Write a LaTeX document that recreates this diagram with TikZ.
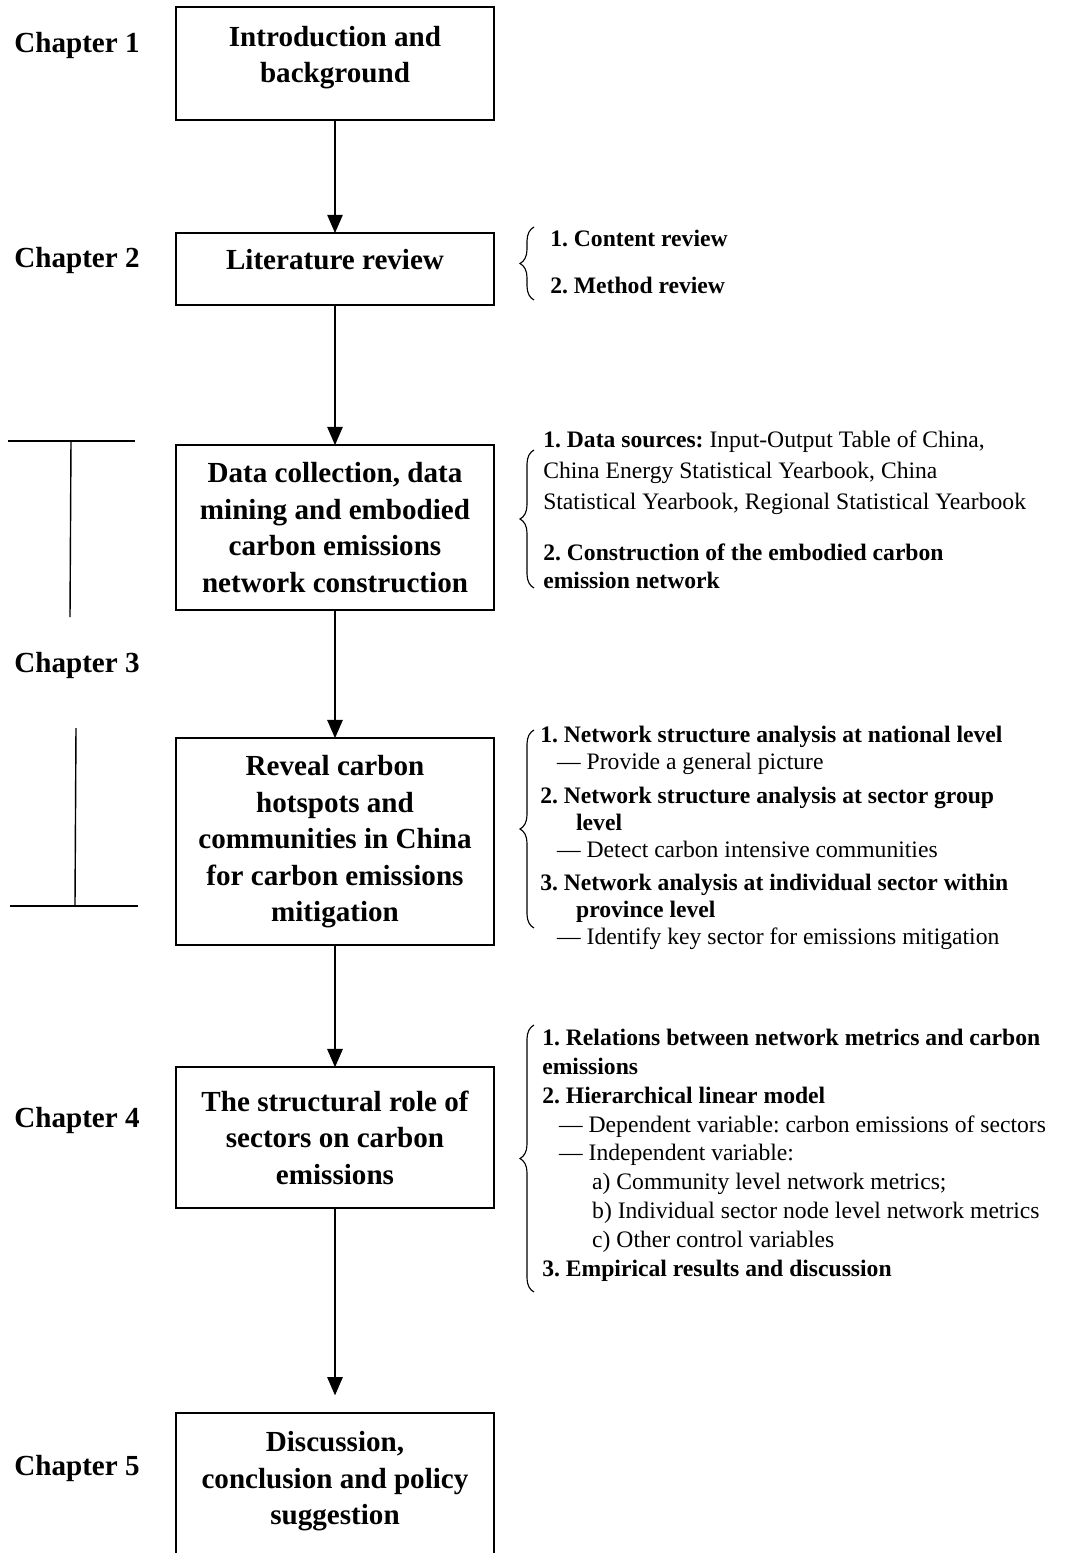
\documentclass[tikz,border=0pt]{standalone}
\usepackage{fontspec}
\setmainfont{Liberation Serif}
\frenchspacing
\usetikzlibrary{arrows.meta,positioning,decorations.pathreplacing}
\tikzset{
  chapbox/.style={
    draw,
    line width=1.3pt,
    align=center,
    minimum width=7.95cm,
    inner sep=2pt,
    outer sep=0pt,
    font=\fontsize{20.7}{26}\selectfont\bfseries
  },
  chaplabel/.style={font=\fontsize{20.7}{26}\selectfont\bfseries, inner sep=0pt},
  notes/.style={align=left, anchor=north west, inner sep=0pt, font=\fontsize{16.8}{19.8}\selectfont},
  arrow/.style={-{Triangle[width=11pt,length=13pt]}, line width=1pt},
  brace/.style={decorate, decoration={brace, amplitude=0.35cm}, line width=0.8pt},
  rule/.style={line width=1.4pt}
}
\begin{document}
\begin{tikzpicture}[x=0.025cm, y=-0.025cm]
    \useasboundingbox (0,0) rectangle (1068,1553);
    % chapter boxes
    \node[chapbox, minimum height=2.825cm] (intro) at (335,63.5) {Introduction and\\background\rule[-13pt]{0pt}{0pt}};
    \node[chapbox, minimum height=1.8cm, below=2.825cm of intro] (litrev) {Literature review\rule[-14pt]{0pt}{0pt}};
    \node[chapbox, minimum height=4.125cm, below=3.5cm of litrev] (datacol) {Data collection, data\\mining and embodied\\carbon emissions\\network construction};
    \node[chapbox, minimum height=5.175cm, below=3.2cm of datacol] (hotspot) {Reveal carbon\\hotspots and\\communities in China\\for carbon emissions\\mitigation};
    \node[chapbox, minimum height=3.525cm, below=3.05cm of hotspot] (role) {The structural role of\\sectors on carbon\\emissions};
    \node[chapbox, draw=none, minimum height=3.4cm, below=5.125cm of role] (concl) {Discussion,\\conclusion and policy\\suggestion};
    \draw[line width=1.3pt] ([yshift=-0.5cm]concl.south west) -- (concl.north west) -- (concl.north east) -- ([yshift=-0.5cm]concl.south east);
    \draw[arrow] (intro) -- (litrev);
    \draw[arrow] (litrev) -- (datacol);
    \draw[arrow] (datacol) -- (hotspot);
    \draw[arrow] (hotspot) -- (role);
    \draw[arrow, shorten >=0.45cm] (role) -- (concl);
    % chapter labels
    \node[chaplabel] (ch1) at (77,45) {Chapter 1};
    \node[chaplabel] (ch2) at (77,260) {Chapter 2};
    \node[chaplabel] (ch3) at (77,665) {Chapter 3};
    \node[chaplabel] (ch4) at (77,1120) {Chapter 4};
    \node[chaplabel] (ch5) at (77,1468) {Chapter 5};
    % side rules of chapter 3
    \draw[rule] (8,441) -- (135,441);
    \draw[line width=1pt] (71,441) -- (70,617);
    \draw[line width=1pt] (76,728) -- (75,905);
    \draw[rule] (10,906) -- (138,906);
    % notes
    \node[notes] (litnotes) at (550,230) {\textbf{1. Content review}\\[13.6pt]\textbf{2. Method review}};
    \node[notes] (datanotes) at (543,431) {\textbf{1. Data sources:} Input-Output Table of China,\\[2pt]China Energy Statistical Yearbook, China\\[2pt]Statistical Yearbook, Regional Statistical Yearbook\\[17pt]\textbf{2. Construction of the embodied carbon}\\
      \textbf{emission network}};
    \node[notes, font=\fontsize{16.8}{19.2}\selectfont] (hotnotes) at (540,726) {\textbf{1. Network structure analysis at national level}\\
      \hspace*{12pt}— Provide a general picture\\[4.6pt]%
      \textbf{2. Network structure analysis at sector group}\\
      \hspace*{25.5pt}\textbf{level}\\
      \hspace*{12pt}— Detect carbon intensive communities\\[4.6pt]%
      \textbf{3. Network analysis at individual sector within}\\
      \hspace*{25.5pt}\textbf{province level}\\
      \hspace*{12pt}— Identify key sector for emissions mitigation};
    \node[notes, font=\fontsize{16.8}{20.5}\selectfont] (rolenotes) at (542,1029) {\textbf{1. Relations between network metrics and carbon}\\
      \textbf{emissions}\\
      \textbf{2. Hierarchical linear model}\\
      \hspace*{12pt}— Dependent variable: carbon emissions of sectors\\
      \hspace*{12pt}— Independent variable:\\
      \hspace*{35.5pt}a) Community level network metrics;\\
      \hspace*{35.5pt}b) Individual sector node level network metrics\\
      \hspace*{35.5pt}c) Other control variables\\
      \textbf{3. Empirical results and discussion}};
    % braces
    \draw[brace] (534,300) -- (534,227);
    \draw[brace] (534,588) -- (534,450);
    \draw[brace] (534,928) -- (534,730);
    \draw[brace] (534,1292) -- (534,1025);
\end{tikzpicture}
\end{document}
